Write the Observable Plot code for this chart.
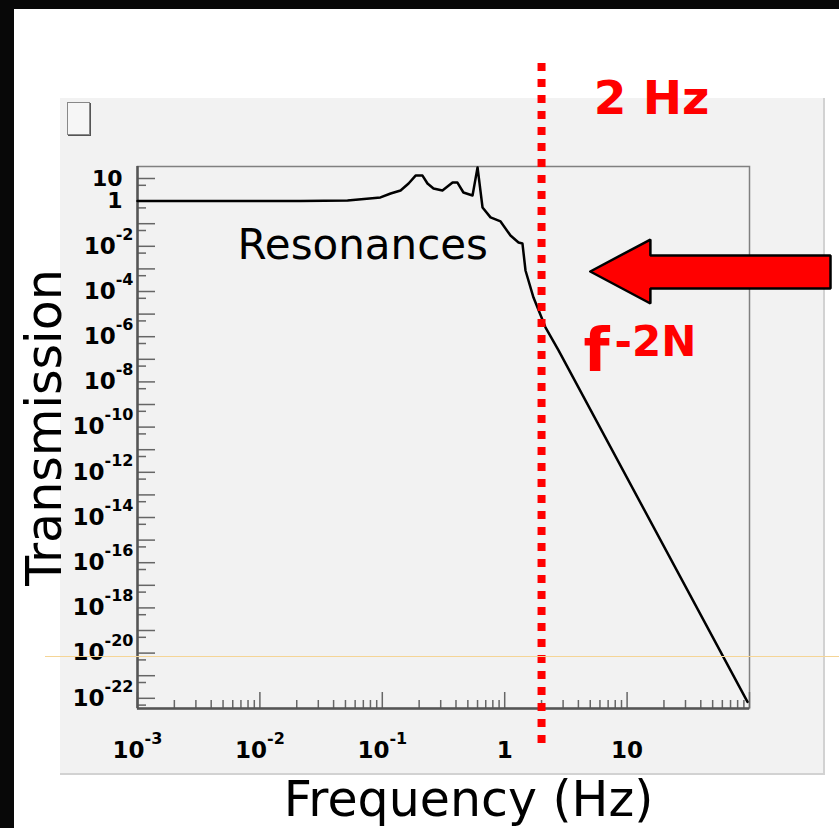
<!DOCTYPE html>
<html>
<head>
<meta charset="utf-8">
<script src="https://cdn.jsdelivr.net/npm/d3@7"></script>
<script src="https://cdn.jsdelivr.net/npm/@observablehq/plot@0.6"></script>
<style>
  html, body { margin: 0; padding: 0; background: #fff; }
  #wrap { position: relative; width: 839px; height: 828px; overflow: hidden; background: #fff; font-family: "DejaVu Sans", sans-serif; }
  .abs { position: absolute; }
  #chart svg { position: absolute; left: 0; top: 0; background: transparent; }
</style>
</head>
<body>
<div id="wrap">
  <div class="abs" style="left:0;top:0;width:839px;height:9px;background:#080808"></div>
  <div class="abs" style="left:0;top:0;width:14px;height:828px;background:#080808"></div>
  <div class="abs" style="left:60px;top:98px;width:763px;height:675px;background:#f2f2f2;border-right:2px solid #d2d2d2;border-bottom:2px solid #d2d2d2"></div>
  <div class="abs" style="left:67px;top:102px;width:21px;height:31px;background:#f6f6f6;border:1px solid #888;box-shadow:1px 1px 0 #555"></div>
  <div id="chart" class="abs" style="left:0;top:0;width:839px;height:828px"></div>
  <div class="abs" style="left:45px;top:656px;width:794px;height:1px;background:#f5d596"></div>
</div>
<script>
// ---- data ----
const freq  = [0.001, 0.0215, 0.052, 0.0966, 0.117, 0.141, 0.164, 0.187, 0.213, 0.234, 0.262, 0.310, 0.375, 0.411, 0.460, 0.546, 0.600, 0.659, 0.766, 0.925, 1.115, 1.297, 1.397, 1.479, 1.719, 2.153, 2.754, 96.3];
const trans = [1, 1, 1.06, 1.45, 2.17, 2.94, 6.0, 13.5, 13.5, 6.0, 3.6, 2.95, 6.6, 6.6, 2.4, 1.78, 31, 0.52, 0.19, 0.126, 0.030, 0.0148, 0.0132, 8.5e-4, 5.4e-5, 2.6e-6, 2.5e-7, 6.9e-23];
const cutoff = [2];                                   // Hz
const xLabelValues = [1e-3, 1e-2, 1e-1, 1, 10];
const yPlainLabels = [10, 1];
const yExpLabels = [1e-2, 1e-4, 1e-6, 1e-8, 1e-10, 1e-12, 1e-14, 1e-16, 1e-18, 1e-20, 1e-22];
const xMajor = [1e-3, 1e-2, 1e-1, 1, 10, 100];
const xMinor = [];
for (let k = -3; k <= 1; k++) for (let m = 2; m <= 9; m++) xMinor.push(m * Math.pow(10, k));
const yMajor = [];
const yMinor = [];
for (let k = -22; k <= 1; k++) yMajor.push(Math.pow(10, k));
for (let k = -23; k <= 0; k++) yMinor.push(5 * Math.pow(10, k));
// block arrow outline (data space)
const arrowX = [5.0, 15.5, 15.5, 459, 459, 15.5, 15.5, 5.0];
const arrowLogY = [-3.115, -1.70, -2.41, -2.41, -3.87, -3.87, -4.53, -3.115];

const curve = freq.map((f, i) => ({f, t: trans[i]}));
const arrow = arrowX.map((x, i) => ({x, y: Math.pow(10, arrowLogY[i])}));

const W = 839, H = 828, mL = 137, mR = 90, mT = 166, mB = 120;
const fw = W - mL - mR, fh = H - mT - mB;
const yDomain = [Math.pow(10, -22.451), Math.pow(10, 1.531)];
const expFmt = d => "10^" + Math.round(Math.log10(d));
const xFmt = d => (d >= 1 ? String(d) : expFmt(d));

const plot = Plot.plot({
  width: W, height: H,
  marginLeft: mL, marginRight: mR, marginTop: mT, marginBottom: mB,
  style: {background: "transparent", fontFamily: "DejaVu Sans, sans-serif", overflow: "visible"},
  x: {type: "log", domain: [1e-3, 100], axis: null},
  y: {type: "log", domain: yDomain, axis: null},
  marks: [
    Plot.frame({stroke: "#808080", strokeWidth: 1.5}),
    Plot.ruleY(yMajor, {stroke: "#666", strokeWidth: 1.5, insetRight: fw - 18}),
    Plot.ruleY(yMinor, {stroke: "#666", strokeWidth: 1.5, insetRight: fw - 9}),
    Plot.ruleX(xMajor, {stroke: "#666", strokeWidth: 1.5, insetTop: fh - 16}),
    Plot.ruleX(xMinor, {stroke: "#666", strokeWidth: 1.5, insetTop: fh - 8}),
    Plot.ruleX([1e-3], {stroke: "#555", strokeWidth: 2.5}),
    Plot.ruleY([yDomain[0]], {stroke: "#555", strokeWidth: 2.5}),
    Plot.line(curve, {x: "f", y: "t", stroke: "#000", strokeWidth: 2.5, strokeLinejoin: "round"}),
    Plot.text(yPlainLabels, {y: d => d, text: d => String(d), frameAnchor: "left", textAnchor: "end", dx: -15, fontSize: 22, fontWeight: "bold", fill: "#000"}),
    Plot.text(yExpLabels, {y: d => d, text: expFmt, frameAnchor: "left", textAnchor: "end", dx: -4, fontSize: 23, fontWeight: "bold", fill: "#000"}),
    Plot.text(xLabelValues, {x: d => d, text: xFmt, frameAnchor: "bottom", textAnchor: "middle", lineAnchor: "bottom", dy: 49, fontSize: 23, fontWeight: "bold", fill: "#000"}),
    Plot.text(["Frequency (Hz)"], {frameAnchor: "bottom", textAnchor: "middle", lineAnchor: "bottom", dx: 25, dy: 107, fontSize: 49, fill: "#000"}),
    Plot.text(["Transmission"], {frameAnchor: "left", textAnchor: "middle", lineAnchor: "bottom", rotate: -90, dx: -77, dy: -10, fontSize: 49, fill: "#000"}),
    Plot.text(["Resonances"], {frameAnchor: "top-left", textAnchor: "start", lineAnchor: "bottom", dx: 100, dy: 92, fontSize: 42, fill: "#000"}),
    Plot.line(arrow, {x: "x", y: "y", fill: "#ff0000", stroke: "#000", strokeWidth: 2.5, strokeLinejoin: "miter"}),
    Plot.ruleX(cutoff, {stroke: "#ff0000", strokeWidth: 8, strokeDasharray: "8,8", insetTop: -103, insetBottom: -35}),
    Plot.text(cutoff, {x: d => d, text: d => d + " Hz", frameAnchor: "top", textAnchor: "middle", lineAnchor: "bottom", dx: 110, dy: -53, fontSize: 47, fontWeight: "bold", fill: "#ff0000"}),
    Plot.text(cutoff, {x: d => d, text: () => "f", frameAnchor: "top", textAnchor: "start", lineAnchor: "bottom", dx: 42, dy: 204, fontSize: 60, fontWeight: "bold", fill: "#ff0000"}),
    Plot.text(cutoff, {x: d => d, text: () => "-2N", frameAnchor: "top", textAnchor: "start", lineAnchor: "bottom", dx: 73, dy: 189, fontSize: 42, fontWeight: "bold", fill: "#ff0000"})
  ]
});

// exponent superscripts as real tspans
d3.select(plot).selectAll("text").each(function () {
  const txt = this.textContent;
  if (txt.indexOf("^") < 0) return;
  const parts = txt.split("^");
  const s = d3.select(this);
  s.selectAll("*").remove();
  s.text(null);
  s.append("tspan").text(parts[0]);
  s.append("tspan").attr("dy", -14).attr("font-size", 16).text(parts[1]);
});

document.getElementById("chart").appendChild(plot);
</script>
</body>
</html>
